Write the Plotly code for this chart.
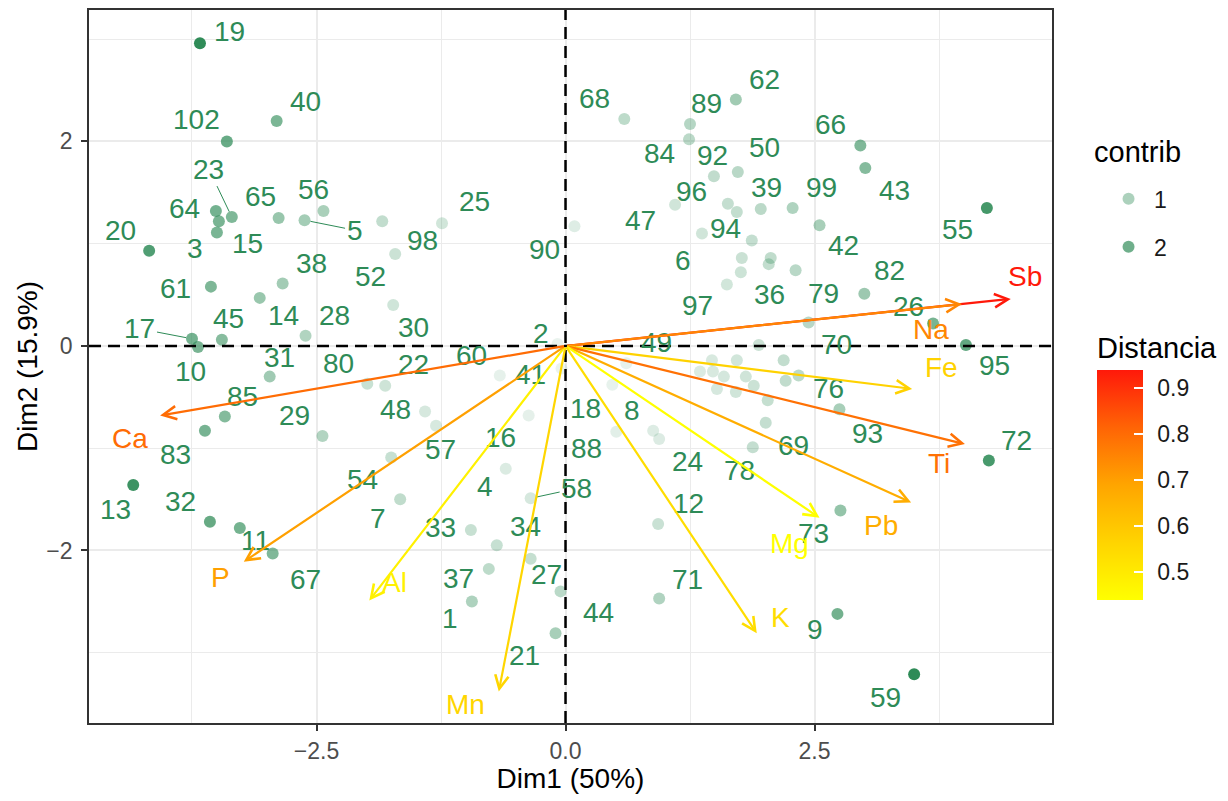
import plotly.graph_objects as go

# ---------------- data ----------------
ind_names = ["19","40","102","23","64","15","3","65","56","5",
             "20","61","38","14","28","98","52","30","25","17",
             "10","45","31","85","83","29","80","22","48","57",
             "54","7","13","32","11","67","60","41","2","16",
             "4","58","33","34","27","37","44","1","21","49",
             "18","88","8","24","12","71","90","68","89","84",
             "62","50","92","47","96","94","39","99","6","42",
             "36","79","97","66","43","55","82","70","26","95",
             "76","93","69","78","72","73","9","59",
             "35","46","51","53","63","74","75","77","81","86",
             "87","91","100","101","103","104","105"]
ind_dim1 = [-3.67,-2.90,-3.40,-3.35,-3.51,-3.48,-3.50,-2.88,-2.43,-2.62,
            -4.18,-3.56,-2.84,-3.07,-2.61,-1.84,-1.71,-1.73,-1.24,-3.75,
            -3.69,-3.45,-2.97,-3.42,-3.62,-2.44,-1.99,-1.81,-1.41,-1.30,
            -1.75,-1.66,-4.34,-3.57,-3.27,-2.94,-0.66,-0.04,-0.08,-0.37,
            -0.60,-0.35,-0.95,-0.69,-0.35,-0.77,-0.05,-0.94,-0.10,0.61,
            0.47,0.51,0.88,0.94,0.93,0.94,0.09,0.59,1.25,1.24,
            1.71,1.73,1.49,1.10,1.63,1.72,1.96,2.28,1.37,2.55,
            2.04,2.31,1.62,2.96,3.01,4.23,3.00,2.44,3.69,4.02,
            2.34,2.75,2.01,1.88,4.25,2.76,2.73,3.50,
            1.87,1.77,2.06,1.76,1.94,1.72,2.19,1.35,1.48,1.59,
            1.81,1.89,2.21,1.52,1.71,2.03,1.47]
ind_dim2 = [2.96,2.20,2.00,1.26,1.32,1.22,1.11,1.25,1.32,1.23,
            0.93,0.58,0.61,0.47,0.10,1.22,0.90,0.40,1.20,0.07,
            -0.01,0.06,-0.30,-0.69,-0.83,-0.88,-0.37,-0.39,-0.64,-0.78,
            -1.09,-1.50,-1.36,-1.72,-1.78,-2.03,-0.29,-0.22,0.02,-0.68,
            -1.20,-1.49,-1.80,-1.95,-2.08,-2.18,-2.40,-2.50,-2.81,-0.17,
            -0.38,-0.84,-0.83,-0.91,-1.74,-2.47,1.17,2.22,2.17,2.02,
            2.41,1.70,1.66,1.38,1.39,1.31,1.34,1.35,1.10,1.18,
            0.80,0.74,0.60,1.96,1.74,1.35,0.51,0.23,0.22,0.01,
            -0.29,-0.62,-0.75,-0.99,-1.12,-1.61,-2.62,-3.21,
            1.03,0.86,0.86,0.72,0.01,-0.14,-0.14,-0.25,-0.25,-0.30,
            -0.30,-0.39,-0.34,-0.42,-0.45,-0.53,-0.14]
ind_contrib = [3.01,1.79,2.10,1.73,1.90,1.84,1.82,1.33,1.04,1.13,
               2.48,1.76,1.14,1.30,0.92,0.66,0.51,0.43,0.40,1.90,
               1.84,1.61,1.20,1.65,1.86,0.91,0.55,0.46,0.32,0.31,
               0.57,0.68,2.80,2.12,1.88,1.72,0.07,0.01,0.00,0.08,
               0.24,0.32,0.56,0.58,0.60,0.72,0.78,0.97,1.06,0.05,
               0.05,0.13,0.20,0.23,0.53,0.94,0.19,0.72,0.85,0.76,
               1.19,0.79,0.67,0.42,0.62,0.63,0.76,0.95,0.42,1.07,
               0.65,0.79,0.40,1.71,1.63,2.67,1.25,0.81,1.85,2.19,
               0.75,1.07,0.62,0.61,2.61,1.38,1.93,3.04,
               0.62,0.52,0.68,0.49,0.51,0.40,0.65,0.25,0.30,0.35,
               0.45,0.50,0.67,0.33,0.42,0.60,0.30]

var_names = ["Sb","Na","Fe","Ti","Pb","Mg","K","Mn","Al","P","Ca"]
var_dim1 = [4.47, 3.98, 3.48, 4.01, 3.47, 2.55, 1.92, -0.67, -1.97, -3.23, -4.07]
var_dim2 = [0.46, 0.41, -0.42, -0.96, -1.53, -1.68, -2.81, -3.38, -2.49, -2.11, -0.68]
var_dist = [0.94, 0.75, 0.57, 0.79, 0.67, 0.44, 0.54, 0.56, 0.48, 0.70, 0.80]

x_tick_vals = [-2.5, 0.0, 2.5]
x_tick_text = ["\u22122.5", "0.0", "2.5"]
y_tick_vals = [-2, 0, 2]
y_tick_text = ["\u22122", "0", "2"]
contrib_breaks = [1, 2]
dist_breaks = [0.5, 0.6, 0.7, 0.8, 0.9]

# ---------------- layout helpers (repelled label offsets, px) ----------------
label_offset_px = {
    "19":(30,-12),"40":(29,-19),"102":(-30,-22),"23":(-23,-48),"64":(-31,-2),"15":(29,22),"3":(-22,16),
    "65":(-18,-22),"56":(-10,-21),"5":(50,10),"20":(-29,-20),"61":(-35,2),"38":(29,-20),"14":(24,18),
    "28":(29,-20),"98":(40,19),"52":(-25,23),"30":(20,22),"25":(32,-22),"17":(-52,-10),"10":(-7,25),
    "45":(7,-21),"31":(10,-19),"85":(18,-20),"83":(-29,24),"29":(-28,-20),"80":(-29,-20),"22":(28,-21),
    "48":(-30,-2),"57":(4,24),"54":(-29,22),"7":(-22,19),"13":(-18,24),"32":(-29,-20),"11":(16,13),
    "67":(33,26),"60":(-28,-20),"41":(-31,6),"2":(-17,-10),"16":(-28,22),"4":(-21,18),"58":(46,-10),
    "33":(-30,-3),"34":(29,-19),"27":(16,16),"37":(-30,10),"44":(38,21),"1":(-22,17),"21":(-31,22),
    "49":(30,-21),"18":(-27,24),"88":(-30,17),"8":(-21,-20),"24":(28,22),"12":(30,-20),"71":(28,-19),
    "90":(-30,23),"68":(-30,-20),"89":(16,-21),"84":(-30,14),"62":(29,-20),"50":(27,-25),"92":(-1,-21),
    "47":(-35,16),"96":(-36,-12),"94":(-11,17),"39":(6,-21),"99":(29,-20),"6":(-19,27),"42":(24,20),
    "36":(1,30),"79":(28,23),"97":(-29,21),"66":(-30,-21),"43":(29,22),"55":(-29,22),"82":(25,-23),
    "70":(28,22),"26":(-25,-17),"95":(29,21),"76":(30,13),"93":(28,24),"69":(28,23),"78":(-13,23),
    "72":(28,-20),"73":(-27,23),"9":(-22,16),"59":(-29,23)}
segment_labels = {"23", "5", "17", "58"}
var_label_offset_px = {"Sb":(14,-22),"Na":(-31,25),"Fe":(29,-21),"Ti":(-26,19),"Pb":(-30,23),
                       "Mg":(-30,26),"K":(24,-16),"Mn":(-33,13),"Al":(25,-18),"P":(-23,16),"Ca":(-30,23)}

FONT = "Liberation Sans, Arial, Helvetica, sans-serif"
LABEL_SIZE = 28
SEA = (46, 139, 87)
SEA_HEX = "#2E8B57"
CSTOPS = [(0.0, (255, 255, 0)), (0.25, (255, 212, 0)), (0.5, (255, 165, 0)),
          (0.75, (255, 100, 5)), (1.0, (255, 25, 10))]
colorscale = [[t, "rgb(%d,%d,%d)" % c] for t, c in CSTOPS]


def cs_color(t):
    t = max(0.0, min(1.0, t))
    for (t0, c0), (t1, c1) in zip(CSTOPS[:-1], CSTOPS[1:]):
        if t <= t1:
            f = (t - t0) / (t1 - t0)
            return "rgb(%d,%d,%d)" % tuple(round(a + (b - a) * f) for a, b in zip(c0, c1))
    return "rgb(%d,%d,%d)" % CSTOPS[-1][1]


cmin_c, cmax_c = min(ind_contrib), max(ind_contrib)


def alpha_of(c):
    return 0.1 + 0.9 * (c - cmin_c) / (cmax_c - cmin_c)


dmin, dmax = min(var_dist), max(var_dist)

fig = go.Figure()

# individuals
fig.add_trace(go.Scatter(
    x=ind_dim1, y=ind_dim2, mode="markers", showlegend=False, hoverinfo="text", text=ind_names,
    marker=dict(size=12, color=["rgba(%d,%d,%d,%.3f)" % (*SEA, alpha_of(c)) for c in ind_contrib],
                line=dict(width=0))))

# legend for contrib
for b in contrib_breaks:
    fig.add_trace(go.Scatter(
        x=[None], y=[None], mode="markers", name=str(b), legendgroup=str(b),
        marker=dict(size=12, color="rgba(%d,%d,%d,%.3f)" % (*SEA, alpha_of(b)))))

# colourbar carrier for Distancia
fig.add_trace(go.Scatter(
    x=var_dim1, y=var_dim2, mode="markers", showlegend=False, hoverinfo="skip",
    marker=dict(size=1, opacity=0, color=var_dist, colorscale=colorscale, cmin=dmin, cmax=dmax,
                showscale=True,
                colorbar=dict(title=dict(text="Distancia", side="top", font=dict(size=29, color="black")),
                              x=1.0467, xanchor="left", xpad=0, y=0.360, yanchor="middle", ypad=0,
                              len=267, lenmode="pixels", thickness=46, thicknessmode="pixels",
                              outlinewidth=0, tickmode="array", tickvals=dist_breaks,
                              ticktext=["\u2009\u2009%.1f" % v for v in dist_breaks],
                              ticks="inside", ticklen=9, tickwidth=1.5, tickcolor="white",
                              tickfont=dict(size=23, color="#1A1A1A")))))

annotations = []
# individual labels
for n, x, y in zip(ind_names, ind_dim1, ind_dim2):
    if n not in label_offset_px:
        continue
    dx, dy = label_offset_px[n]
    if n in segment_labels:
        annotations.append(dict(x=x, y=y, xref="x", yref="y", text=n, showarrow=True, ax=dx, ay=dy,
                                arrowhead=0, arrowwidth=1, arrowcolor=SEA_HEX, standoff=6,
                                font=dict(size=LABEL_SIZE, color=SEA_HEX, family=FONT)))
    else:
        annotations.append(dict(x=x, y=y, xref="x", yref="y", text=n, showarrow=False,
                                xshift=dx, yshift=-dy, font=dict(size=LABEL_SIZE, color=SEA_HEX, family=FONT)))

# variable arrows
for n, x, y, d in zip(var_names, var_dim1, var_dim2, var_dist):
    col = cs_color((d - dmin) / (dmax - dmin))
    annotations.append(dict(x=x, y=y, ax=0, ay=0, xref="x", yref="y", axref="x", ayref="y",
                            text="", showarrow=True, arrowhead=5, arrowsize=1.2, arrowwidth=2.2,
                            arrowcolor=col, standoff=0, startstandoff=0))
for n, x, y, d in zip(var_names, var_dim1, var_dim2, var_dist):
    col = cs_color((d - dmin) / (dmax - dmin))
    dx, dy = var_label_offset_px[n]
    annotations.append(dict(x=x, y=y, xref="x", yref="y", text=n, showarrow=False,
                            xshift=dx, yshift=-dy, font=dict(size=LABEL_SIZE, color=col, family=FONT)))

# legend title for contrib
annotations.append(dict(x=1.0415, y=0.801, xref="paper", yref="paper", xanchor="left", yanchor="middle",
                        text="contrib", showarrow=False, font=dict(size=29, color="black", family=FONT)))

axis_common = dict(showline=True, mirror=True, linecolor="#333333", linewidth=1.8,
                   ticks="outside", ticklen=6, tickwidth=1.8, tickcolor="#333333",
                   showgrid=True, gridcolor="#EBEBEB", gridwidth=1.6, zeroline=False,
                   tickfont=dict(size=23, color="#4D4D4D", family=FONT),
                   title_font=dict(size=28, color="black", family=FONT))

fig.update_layout(
    width=1220, height=793,
    margin=dict(l=81, r=176, t=0, b=78),
    paper_bgcolor="white", plot_bgcolor="white",
    font=dict(family=FONT, color="black"),
    xaxis=dict(range=[-4.784, 4.884], tickmode="array", tickvals=x_tick_vals, ticktext=x_tick_text,
               title=dict(text="Dim1 (50%)", standoff=6),
               minor=dict(tickmode="array", tickvals=[-3.75, -1.25, 1.25, 3.75], showgrid=True,
                          gridcolor="#EBEBEB", gridwidth=0.8, ticks=""),
               **axis_common),
    yaxis=dict(range=[-3.687, 3.285], tickmode="array", tickvals=y_tick_vals, ticktext=y_tick_text,
               title=dict(text="Dim2 (15.9%)", standoff=0), ticklabelstandoff=4,
               minor=dict(tickmode="array", tickvals=[-3, -1, 1, 3], showgrid=True,
                          gridcolor="#EBEBEB", gridwidth=0.8, ticks=""),
               **axis_common),
    legend=dict(x=1.053, xanchor="left", y=0.7014, yanchor="middle", itemwidth=41,
                font=dict(size=23, color="#1A1A1A"), tracegroupgap=15, bgcolor="rgba(0,0,0,0)"),
    shapes=[
        dict(type="line", xref="x", yref="paper", x0=0, x1=0, y0=0, y1=1,
             line=dict(color="black", width=2.5, dash="12px,7px"), layer="above"),
        dict(type="line", xref="paper", yref="y", x0=0, x1=1, y0=0, y1=0,
             line=dict(color="black", width=2.5, dash="12px,7px"), layer="above"),
    ],
    annotations=annotations,
)

fig.write_html("out.html")
